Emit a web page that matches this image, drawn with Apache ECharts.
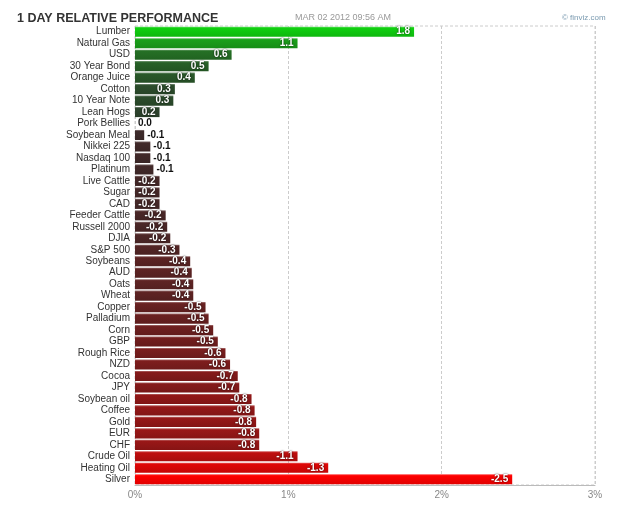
<!DOCTYPE html>
<html>
<head>
<meta charset="utf-8">
<script src="https://cdn.jsdelivr.net/npm/echarts@6/dist/echarts.min.js"></script>
<style>
  html, body { margin: 0; padding: 0; background: #fff; }
  #chart { width: 625px; height: 505px; }
</style>
</head>
<body>
<div id="chart"></div>
<script>
const names = ["Lumber", "Natural Gas", "USD", "30 Year Bond", "Orange Juice", "Cotton", "10 Year Note",
  "Lean Hogs", "Pork Bellies", "Soybean Meal", "Nikkei 225", "Nasdaq 100", "Platinum", "Live Cattle",
  "Sugar", "CAD", "Feeder Cattle", "Russell 2000", "DJIA", "S&P 500", "Soybeans", "AUD", "Oats", "Wheat",
  "Copper", "Palladium", "Corn", "GBP", "Rough Rice", "NZD", "Cocoa", "JPY", "Soybean oil", "Coffee",
  "Gold", "EUR", "CHF", "Crude Oil", "Heating Oil", "Silver"];
const changes = [1.82, 1.06, 0.63, 0.48, 0.39, 0.26, 0.25,
  0.16, 0.00, -0.06, -0.10, -0.10, -0.12, -0.16,
  -0.16, -0.16, -0.20, -0.21, -0.23, -0.29, -0.36, -0.37, -0.38, -0.38,
  -0.46, -0.48, -0.51, -0.54, -0.59, -0.62, -0.67, -0.68, -0.76, -0.78,
  -0.79, -0.81, -0.81, -1.06, -1.26, -2.46];
const xTicks = ["0%", "1%", "2%", "3%"];

// bar colour gets brighter with the size of the move
function mix(a, b, t) {
  return a.map((c, i) => Math.round(c + (b[i] - c) * t));
}
function rgb(c) { return "rgb(" + c.join(",") + ")"; }
function barColor(v) {
  const t = Math.pow(Math.min(Math.abs(v) / 1.45, 1), 1.25);
  const c = v >= 0 ? mix([48, 60, 48], [16, 208, 16], t) : mix([58, 44, 44], [255, 0, 0], t);
  return {
    type: "linear", x: 0, y: 0, x2: 0, y2: 1,
    colorStops: [
      { offset: 0, color: rgb(mix(c, [255, 255, 255], 0.35)) },
      { offset: 0.15, color: rgb(c) },
      { offset: 1, color: rgb(mix(c, [0, 0, 0], 0.12)) }
    ]
  };
}

const barData = changes.map((v) => {
  const small = Math.abs(v) < 0.13;
  return {
    value: Math.abs(v),
    itemStyle: { color: barColor(v) },
    label: small
      ? { position: "right", color: "#111", textShadowBlur: 0, distance: 3 }
      : { position: "insideRight", color: "#fff", textShadowColor: "rgba(0,0,0,0.8)", textShadowBlur: 2, distance: 4 }
  };
});

const chart = echarts.init(document.getElementById("chart"));
chart.setOption({
  animation: false,
  title: [
    { text: "1 DAY RELATIVE PERFORMANCE", left: 12, top: 7,
      textStyle: { fontFamily: "Liberation Sans, Arial", fontSize: 12.5, fontWeight: "bold", color: "#333" } },
    { text: "MAR 02 2012 09:56 AM", left: 290, top: 8,
      textStyle: { fontFamily: "Liberation Sans, Arial", fontSize: 9, fontWeight: "normal", color: "#999" } },
    { text: "© finviz.com", left: 557, top: 9,
      textStyle: { fontFamily: "Liberation Sans, Arial", fontSize: 8, fontWeight: "normal", color: "#7a9ab0" } }
  ],
  grid: {
    left: 135, right: 30, top: 26, bottom: 20,
    show: true, borderColor: "#ccc", borderWidth: 1, borderType: [3, 2]
  },
  xAxis: {
    type: "value", min: 0, max: 3, interval: 1,
    axisLine: { show: true, lineStyle: { color: "#bbb" } },
    axisTick: { show: false },
    axisLabel: {
      color: "#888", fontFamily: "Liberation Sans, Arial", fontSize: 10, margin: 5,
      formatter: (v) => xTicks[Math.round(v)]
    },
    splitLine: { show: true, lineStyle: { color: "#ccc", type: [3, 2] } }
  },
  yAxis: {
    type: "category", data: names, inverse: true,
    axisLine: { show: false }, axisTick: { show: false },
    axisLabel: { interval: 0, color: "#333", fontFamily: "Liberation Sans, Arial", fontSize: 10, margin: 5 }
  },
  series: [{
    type: "bar",
    data: barData,
    barCategoryGap: "12%",
    label: {
      show: true,
      fontFamily: "Liberation Sans, Arial", fontSize: 10, fontWeight: "bold",
      formatter: (p) => changes[p.dataIndex].toFixed(1)
    }
  }]
});
</script>
</body>
</html>
